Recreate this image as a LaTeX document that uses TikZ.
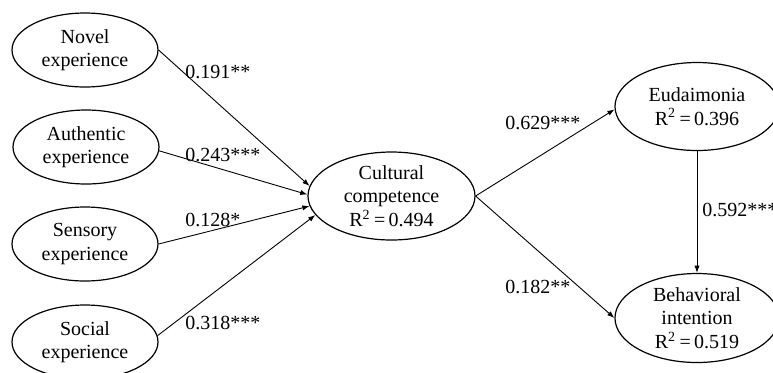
\documentclass[tikz,border=0pt]{standalone}
\usepackage{fontspec}
\setmainfont{Liberation Serif}
\usetikzlibrary{shapes.geometric,arrows.meta}

\begin{document}
\begin{tikzpicture}[x=0.5pt,y=-0.5pt,line join=round,>={Latex[length=3.6pt,width=2.6pt]},
		font=\fontsize{10}{11.8}\selectfont,
		construct/.style={draw,ellipse,align=center,inner sep=0pt,line width=0.6pt},
		small/.style={construct,minimum width=73pt,minimum height=37pt},
		big/.style={construct,minimum width=82pt,minimum height=44pt},
		link/.style={->,line width=0.45pt},
		coef/.style={anchor=west,inner sep=0pt}]
			\useasboundingbox (0,0) rectangle (773,372);
			% antecedents
			\node[small] (novel) at (85,50) {Novel\\experience};
			\node[small] (authentic) at (86,147) {Authentic\\experience};
			\node[small] (sensory) at (85,244) {Sensory\\experience};
			\node[small] (social) at (85,342) {Social\\experience};
			% mediator and outcomes
			\node[big,minimum width=83.5pt] (cc) at (391.5,196) {Cultural\\competence\\R\textsuperscript{2}\,=\,0.494};
			\node[big] (eud) at (697,106.5) {Eudaimonia\\R\textsuperscript{2}\,=\,0.396};
			\node[big,minimum height=44.5pt] (bi) at (697,318) {Behavioral\\intention\\R\textsuperscript{2}\,=\,0.519};
			% paths
			\draw[link] (novel.east) -- (cc.173);
			\draw[link] (authentic.-3) -- (cc.179);
			\draw[link] (sensory.east) -- (cc.187);
			\draw[link] (social.5) -- (cc.194);
			\draw[link] (cc.east) -- (eud.182);
			\draw[link] (cc.east) -- (bi.180);
			\draw[link] (eud.south) -- (bi.north);
			% coefficients
			\node[coef] (b1) at (185,72) {0.191**};
			\node[coef] (b2) at (185,155) {0.243***};
			\node[coef] (b3) at (185,220) {0.128*};
			\node[coef] (b4) at (185,323) {0.318***};
			\node[coef] (b5) at (505,123) {0.629***};
			\node[coef] (b6) at (505,287) {0.182**};
			\node[coef] (b7) at (702,210) {0.592***};
		\end{tikzpicture}
\end{document}
